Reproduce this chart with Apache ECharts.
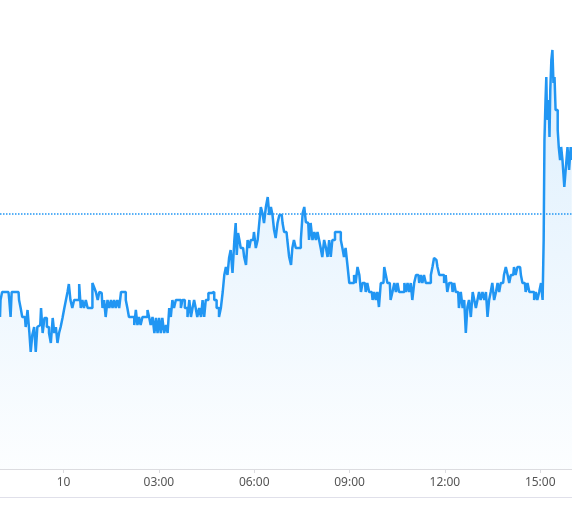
<!DOCTYPE html>
<html>
<head>
<meta charset="utf-8">
<script src="https://cdn.jsdelivr.net/npm/echarts@6/dist/echarts.min.js"></script>
<style>
  html, body { margin: 0; padding: 0; background: #ffffff; }
  #chart { width: 572px; height: 517px; }
</style>
</head>
<body>
<div id="chart"></div>
<script>
// Minutes elapsed since session start (09th 22:00); session ends 10th 16:00
var minutes = [
  0,2,6,16,19,21,23,35,37,41,
  43,47,50,54,57,59,63,66,69,72,
  76,79,82,86,91,94,98,101,104,107,
  110,113,116,120,123,126,129,131,135,138,
  142,148,151,154,157,160,164,167,173,176,
  179,183,186,189,192,195,198,201,205,208,
  211,214,217,220,223,227,230,236,239,242,
  245,252,255,258,261,264,267,271,277,280,
  283,286,290,293,296,299,302,305,308,312,
  315,318,321,324,327,330,334,340,343,346,
  352,356,359,362,365,368,371,374,378,381,
  384,387,390,397,403,406,412,415,419,422,
  425,428,431,434,437,441,444,446,448,451,
  453,456,459,463,466,469,472,475,478,481,
  485,488,491,494,497,500,504,507,510,513,
  516,519,522,526,529,532,535,538,541,544,
  548,551,553,557,560,566,570,573,576,579,
  582,585,588,592,595,598,601,604,607,610,
  614,617,620,623,626,629,636,642,645,648,
  651,654,658,661,667,670,673,677,680,683,
  686,689,692,695,699,702,705,708,711,714,
  717,721,724,727,730,733,736,739,743,746,
  749,752,755,762,765,768,771,774,777,780,
  784,787,790,793,796,799,802,806,812,815,
  818,821,824,828,831,837,840,843,846,850,
  853,856,859,862,865,868,872,875,878,881,
  884,887,891,894,897,900,903,906,909,913,
  916,919,922,925,928,931,935,938,941,944,
  947,950,953,957,960,963,966,969,972,975,
  979,982,985,988,991,994,998,1001,1007,1010,
  1013,1016,1020,1023,1026,1027,1029,1031,1032,1033,
  1035,1037,1038,1040,1042,1044,1046,1048,1050,1052,
  1054,1056,1059,1060,1064,1067,1070,1073,1076,1079,
  1080
];
var prices = [
  15.2,16.9,17.7,17.7,16.9,15.2,17.7,17.7,16.9,16.1,
  15.2,15.2,14.2,15.9,13.6,11.7,13.4,14.2,11.7,14.2,
  14.4,16.1,13.6,15.1,14.2,13.6,12.6,15.1,13.6,14.2,
  12.6,13.6,14.2,15.1,16.1,16.9,17.7,18.5,16.9,16.1,
  16.9,16.9,18.5,16.1,16.9,16.1,16.9,16.1,16.1,18.6,
  18.2,17.7,16.9,17.7,17.6,16.1,16.9,15.2,16.9,16.1,
  16.9,16.1,16.9,16.1,16.9,16.1,17.7,17.7,16.9,16.1,
  15.2,15.2,14.4,15.9,14.4,15.2,14.4,15.2,15.2,15.9,
  15.2,14.4,15.2,13.6,15.1,13.6,15.1,13.6,15.1,13.6,
  14.4,13.6,16.1,15.2,16.9,16.1,16.9,16.9,16.1,16.9,
  16.1,15.2,16.9,15.2,16.1,16.9,16.1,15.2,16.1,15.2,
  16.9,15.2,16.9,17.6,17.7,16.9,16.1,15.2,16.1,17.7,
  19.4,20.2,19.4,21.1,21.9,19.6,22.9,24.6,21.4,23.6,
  22.9,22.1,22.1,21.2,20.4,22.9,22.1,22.9,22.9,23.7,
  22.1,22.9,24.6,26.2,25.6,24.6,26.2,27.2,25.4,26.2,
  25.4,23.9,23.1,24.6,25.4,25.4,24.6,23.7,23.7,22.9,
  21.2,20.4,22.1,22.9,22.1,22.1,22.9,25.6,26.2,24.7,
  24.6,22.9,24.6,22.9,23.7,22.9,23.7,22.9,22.1,21.2,
  22.9,22.1,21.2,22.9,21.2,22.9,23.7,23.7,22.9,22.1,
  21.2,22.1,20.4,18.6,18.6,19.4,18.6,20.2,19.4,17.7,
  18.6,18.6,17.7,18.6,17.7,17.7,16.9,17.7,16.9,17.7,
  16.2,18.6,18.6,20.2,19.4,18.6,18.6,16.9,17.7,18.6,
  17.7,18.6,17.7,17.7,18.6,17.7,18.6,17.7,18.6,16.9,
  18.6,19.4,19.4,18.6,19.4,18.6,19.4,18.6,18.6,19.4,
  20.2,21.1,20.9,20.2,19.4,19.4,18.6,19.4,17.7,18.6,
  18.6,17.7,18.6,17.7,17.7,16.1,17.7,16.1,16.9,13.6,
  16.2,16.9,15.2,17.7,16.9,16.1,16.9,17.7,16.9,17.7,
  16.9,17.7,15.2,16.9,17.7,18.6,16.9,17.7,18.6,17.7,
  18.6,18.6,19.4,20.2,19.4,18.6,19.4,19.4,20.2,19.4,
  20.2,20.2,19.4,18.6,18.6,17.7,18.6,17.7,17.7,16.9,
  17.7,16.9,17.7,18.6,16.9,22.9,32.9,36.9,39.2,36.2,
  34.9,36.9,33.2,37.9,40.9,41.9,38.6,39.2,35.9,35.9,
  33.9,32.2,30.9,32.2,30.9,28.2,30.2,32.2,29.9,32.2,
  30.9
];
var referencePrice = 25.5;
var sessionMinutes = 1080;
var tickMinutes = [120, 300, 480, 660, 840, 1020];
var tickLabels = ['10', '03:00', '06:00', '09:00', '12:00', '15:00'];

var n = Math.min(minutes.length, prices.length);
var data = [];
for (var i = 0; i < n; i++) data.push([minutes[i], prices[i]]);

var chart = echarts.init(document.getElementById('chart'), null, { renderer: 'canvas' });
chart.setOption({
  animation: false,
  backgroundColor: '#ffffff',
  grid: { left: 0, right: 0, top: 9, bottom: 48, containLabel: false },
  xAxis: {
    type: 'value',
    min: 0,
    max: sessionMinutes,
    axisLine: { show: true, onZero: false, lineStyle: { color: '#DCDCE0', width: 1 } },
    axisTick: { show: true, length: 4, lineStyle: { color: '#DCDCE0' }, customValues: tickMinutes },
    axisLabel: {
      color: '#555555',
      fontSize: 12,
      fontFamily: '"Noto Sans", sans-serif',
      margin: 8,
      customValues: tickMinutes,
      formatter: function (val) {
        var k = tickMinutes.indexOf(Math.round(val));
        return k >= 0 ? tickLabels[k] : '';
      }
    },
    splitLine: { show: false }
  },
  yAxis: {
    type: 'value',
    min: 0,
    max: 46,
    show: false,
    splitLine: { show: false }
  },
  graphic: [{
    type: 'line',
    silent: true,
    shape: { x1: 0, y1: 497.5, x2: 572, y2: 497.5 },
    style: { stroke: '#E0E0EA', lineWidth: 1 }
  }],
  series: [{
    type: 'line',
    data: data,
    step: 'middle',
    showSymbol: false,
    symbol: 'none',
    lineStyle: { color: '#2196F3', width: 2.5 },
    itemStyle: { color: '#2196F3' },
    areaStyle: {
      color: new echarts.graphic.LinearGradient(0, 0, 0, 1, [
        { offset: 0, color: 'rgba(33,150,243,0.22)' },
        { offset: 1, color: 'rgba(33,150,243,0.02)' }
      ])
    },
    markLine: {
      silent: true,
      symbol: ['none', 'none'],
      label: { show: false },
      lineStyle: { color: '#2196F3', type: 'dotted', width: 1.5 },
      data: [{ yAxis: referencePrice }]
    }
  }]
});
</script>
</body>
</html>
